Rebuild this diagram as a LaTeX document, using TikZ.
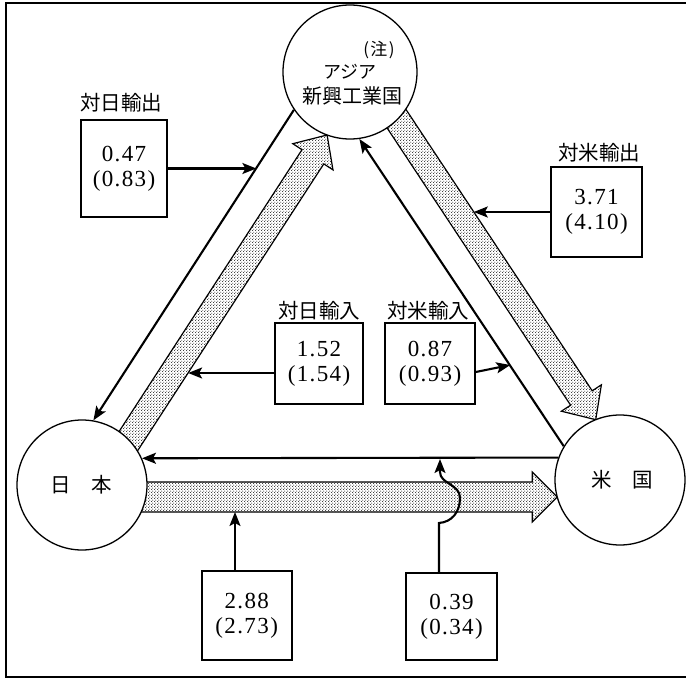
\documentclass[tikz,border=0pt]{standalone}
\usepackage{fontspec}
\setmainfont{Liberation Serif}
\newfontfamily\jp{Noto Sans CJK JP}
\newfontfamily\numfont[LetterSpace=6]{Liberation Serif}
\usetikzlibrary{arrows.meta,patterns}

% fine stipple used inside the wide flow arrows
\pgfdeclarepatternformonly{finedots}{\pgfpointorigin}{\pgfqpoint{2.7pt}{2.7pt}}%
  {\pgfqpoint{2.7pt}{2.7pt}}{%
  \pgfpathcircle{\pgfqpoint{0.675pt}{0.675pt}}{0.53pt}%
  \pgfpathcircle{\pgfqpoint{2.025pt}{2.025pt}}{0.53pt}%
  \pgfusepath{fill}}

\begin{document}
\begin{tikzpicture}[x=1pt,y=-1pt,
  country/.style={circle,draw,line width=1.3pt,fill=white,inner sep=0pt},
  databox/.style={draw,line width=1.6pt,fill=white,inner sep=0pt,align=center,
    font=\numfont\fontsize{23}{25}\selectfont},
  caption/.style={font=\jp\fontsize{20.5}{24}\selectfont,inner sep=0pt},
  band/.style={draw,line width=1.2pt,pattern=finedots,line join=miter},
  flow/.style={line width=2.1pt,-{Stealth[length=14pt,width=11pt,inset=3pt]}},
]
\useasboundingbox (0,0) rectangle (686,679);

% outer frame (open on the right)
\draw[line width=2pt] (686,3) -- (6,3) -- (6,677) -- (686,677);

% wide dotted flows
\draw[band] (100.0,460.9) -- (302.0,149.7) -- (292.8,143.7) -- (327.1,135.0)
  -- (333.0,169.9) -- (323.8,163.9) -- (121.8,475.1) -- cycle;
\draw[band] (366.6,97.0) -- (570.6,405.2) -- (561.4,411.2) -- (595.7,419.7)
  -- (601.4,384.8) -- (592.2,390.8) -- (388.2,82.6) -- cycle;
\draw[band] (120,482) -- (532.3,482) -- (532.3,472) -- (557.3,497)
  -- (532.3,522) -- (532.3,512) -- (120,512) -- cycle;

% the three economies
\node[country,minimum size=134pt] (asia) at (350,72) {};
\node[country,minimum size=130pt] (japan) at (82,485) {};
\node[country,minimum size=130pt] (usa) at (620,480) {};

\node[font=\jp\fontsize{17}{17}\selectfont,inner sep=0pt] (note) at (379,50) {(\hspace{1.5pt}注\hspace{1.5pt})};
\node[font=\jp\fontsize{18}{18}\selectfont,inner sep=0pt] (asiaA) at (350,72) {アジア};
\node[font=\jp\fontsize{20}{20}\selectfont,inner sep=0pt] (asiaB) at (352,96) {新興工業国};
\node[caption] (jpname) at (81.5,485) {日\hspace{21pt}本};
\node[caption] (usname) at (622,480) {米\hspace{21pt}国};

% thin flows
\draw[flow] (asia.214.2) -- (japan.80.6);
\draw[flow] (usa.149.1) -- (asia.278.8);
\draw[flow] (usa.160.2) -- (japan.24.6);

% value boxes
\node[databox,minimum width=86pt,minimum height=97pt] (b1) at (124,168.5) {0.47\\(0.83)};
\node[databox,minimum width=91pt,minimum height=90pt] (b2) at (596.5,212) {3.71\\(4.10)};
\node[databox,minimum width=88pt,minimum height=81pt] (b3) at (319,363.5) {1.52\\(1.54)};
\node[databox,minimum width=90pt,minimum height=81pt] (b4) at (430,363.5) {0.87\\(0.93)};
\node[databox,minimum width=90pt,minimum height=89pt] (b5) at (246.7,615.5) {2.88\\(2.73)};
\node[databox,minimum width=91pt,minimum height=87pt] (b6) at (451.5,616.5) {0.39\\(0.34)};

\node[caption] (l1) at (121,103) {対日輸出};
\node[caption] (l2) at (599,153) {対米輸出};
\node[caption] (l3) at (319,311) {対日輸入};
\node[caption] (l4) at (428,311) {対米輸入};

% arrows from the boxes to the flows
\coordinate (t1) at (256.4,168.5);
\coordinate (t2) at (473.8,212);
\coordinate (t3) at (188.1,373);
\coordinate (t4) at (510.3,365);
\coordinate (t5) at (235,512);
\coordinate (t6) at (440,459);
\draw[flow] (b1.east) -- (t1);
\draw[flow] (b2.west) -- (t2);
\draw[flow] ([yshift=-9.5pt]b3.west) -- (t3);
\draw[flow] ([yshift=-8.5pt]b4.east) -- (t4);
\draw[flow] ([xshift=-11.7pt]b5.north) -- (t5);
\draw[flow] ([xshift=-12.5pt]b6.north) -- (439,523)
  .. controls (452,522) and (460,512) .. (460,498)
  .. controls (460,484) and (440,484) .. (440,472) -- (t6);
\end{tikzpicture}
\end{document}
